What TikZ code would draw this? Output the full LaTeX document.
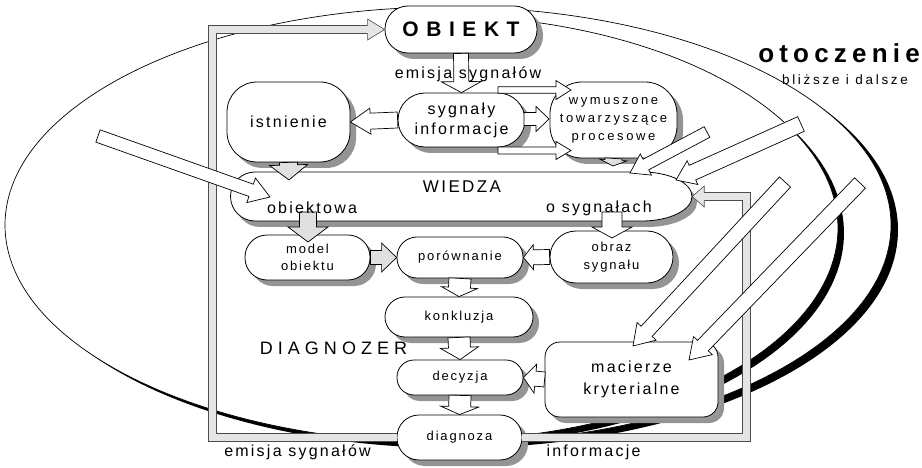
\documentclass[tikz,border=0pt]{standalone}
\usepackage{fontspec}
\setmainfont{Liberation Sans}
\newfontfamily\trkA[LetterSpace=14]{Liberation Sans}
\newfontfamily\trkB[LetterSpace=20]{Liberation Sans}
\newfontfamily\trkC[LetterSpace=28]{Liberation Sans}
\newfontfamily\trkD[LetterSpace=36]{Liberation Sans}
\usetikzlibrary{calc,shadows}

% hollow block arrow: [fill] {tail} {tip} {half shaft} {half head} {head length}
\newcommand{\blockarrow}[6][white]{%
  \coordinate (ba-h) at ($(#3)!#6!(#2)$);
  \filldraw[blockline, fill=#1]
    ($(#2)!#4!90:(#3)$) -- ($(ba-h)!#4!-90:(#2)$) -- ($(ba-h)!#5!-90:(#2)$) -- (#3)
    -- ($(ba-h)!#5!90:(#2)$) -- ($(ba-h)!#4!90:(#2)$) -- ($(#2)!#4!-90:(#3)$) -- cycle;
}

\tikzset{
  outline/.style={draw=black, line width=0.8pt},
  pill/.style={outline, fill=white, shape=rectangle, inner sep=0pt, align=center,
    drop shadow={shadow xshift=6pt, shadow yshift=-6pt, fill=black!42, opacity=1}},
  blockline/.style={draw=black, line width=0.7pt, line join=miter},
  band/.style={draw=black!70, line width=0.6pt, double=black!10, double distance=7.6pt},
  headline/.style={draw=black!70, line width=0.6pt},
  txtL/.style={font=\trkA\fontsize{16}{20}\selectfont},
  txtM/.style={font=\trkA\fontsize{13}{17.5}\selectfont, align=center},
  shade/.style={fill=black!42},
}

\begin{document}
\begin{tikzpicture}[x=1pt, y=-1pt]
\useasboundingbox (0,0) rectangle (922,468);
\fill[white] (0,0) rectangle (922,468);

% environment: outer ellipse with its dark crescent
\fill[black] (455,230) ellipse [x radius=443pt, y radius=218pt];
\filldraw[fill=white, draw=black, line width=0.7pt] (448,225) ellipse [x radius=443pt, y radius=218pt];
% inner environment ring (right part only)
\fill[black] plot[domain=-84:84, samples=90] ({436+408*cos(\x)}, {233+213*sin(\x)}) -- cycle;
\fill[white] plot[domain=-84:84, samples=90] ({430+408*cos(\x)}, {228+213*sin(\x)}) -- cycle;
\draw[line width=0.7pt] plot[domain=-84:84, samples=90] ({430+408*cos(\x)}, {228+213*sin(\x)});

% main nodes
\node[pill, rounded corners=23pt, minimum width=152pt, minimum height=47pt,
      font=\trkD\bfseries\fontsize{21}{24}\selectfont] (obiekt) at (461,29.5) {OBIEKT};
\node[pill, rounded corners=27pt, minimum width=127pt, minimum height=54pt, txtL]
      (sygnaly) at (461.5,120) {sygnały\\informacje};
\node[pill, rounded corners=30pt, minimum width=123pt, minimum height=80pt, txtL]
      (istnienie) at (288.5,122) {istnienie};
\node[pill, rounded corners=32pt, minimum width=127pt, minimum height=76pt,
      font=\trkB\fontsize{13}{18}\selectfont] (wymuszone) at (613.5,120) {wymuszone\\towarzyszące\\procesowe};

% knowledge base
\node[minimum width=462pt, minimum height=49pt, inner sep=0pt] (wiedza) at (461,196.5) {};
\fill[shade, shift={(5,6)}] (255,172) -- (642,172)
   arc[start angle=90, end angle=-90, x radius=50pt, y radius=24.5pt] -- (255,221)
   arc[start angle=-90, end angle=-270, radius=24.5pt] -- cycle;
\filldraw[outline, fill=white] (255,172) -- (642,172)
   arc[start angle=90, end angle=-90, x radius=50pt, y radius=24.5pt] -- (255,221)
   arc[start angle=-90, end angle=-270, radius=24.5pt] -- cycle;

\node[pill, rounded corners=22pt, minimum width=125pt, minimum height=45pt, txtM]
      (model) at (307.5,257.5) {model\\obiektu};
\node[pill, rounded corners=20pt, minimum width=126pt, minimum height=41pt, txtM]
      (porownanie) at (460,257.5) {porównanie};
\node[pill, rounded corners=26pt, minimum width=123pt, minimum height=52pt, txtM]
      (obraz) at (611.5,257) {obraz\\sygnału};
\node[pill, rounded corners=20pt, minimum width=148pt, minimum height=40pt, txtM]
      (konkluzja) at (459,317) {konkluzja};
\node[pill, rounded corners=17pt, minimum width=126pt, minimum height=35pt, txtM]
      (decyzja) at (460,377.5) {decyzja};
\node[pill, rounded corners=15pt, minimum width=173pt, minimum height=75pt,
      font=\trkA\fontsize{16}{22}\selectfont,
      drop shadow={shadow xshift=3pt, shadow yshift=-3pt, fill=black!40, opacity=1}]
      (macierze) at (631.5,379.5) {macierze\\kryterialne};
\node[pill, rounded corners=22pt, minimum width=125pt, minimum height=45pt, txtM]
      (diagnoza) at (459.5,437.5) {diagnoza};

% diagnoser frame loops
\coordinate (fl) at (212.5,0);
\coordinate (fr) at (746.5,0);
\draw[band] (diagnoza.west) -- (diagnoza.west -| fl) -- (obiekt.west -| fl) -- ([xshift=-17pt]obiekt.west);
\fill[black!10] ([xshift=-17pt,yshift=10.5pt]obiekt.west) -- (obiekt.west) -- ([xshift=-17pt,yshift=-10.5pt]obiekt.west) -- cycle;
\draw[headline] ([xshift=-17pt,yshift=4.4pt]obiekt.west) -- ([xshift=-17pt,yshift=10.5pt]obiekt.west)
   -- (obiekt.west) -- ([xshift=-17pt,yshift=-10.5pt]obiekt.west) -- ([xshift=-17pt,yshift=-4.4pt]obiekt.west);
\draw[band] (diagnoza.east) -- (diagnoza.east -| fr) -- (wiedza.east -| fr) -- ([xshift=12pt]wiedza.east);
\fill[black!10] ([xshift=12pt,yshift=10.5pt]wiedza.east) -- (wiedza.east) -- ([xshift=12pt,yshift=-10.5pt]wiedza.east) -- cycle;
\draw[headline] ([xshift=12pt,yshift=4.4pt]wiedza.east) -- ([xshift=12pt,yshift=10.5pt]wiedza.east)
   -- (wiedza.east) -- ([xshift=12pt,yshift=-10.5pt]wiedza.east) -- ([xshift=12pt,yshift=-4.4pt]wiedza.east);

% flows between nodes
\coordinate (s1) at (498,90);  \coordinate (e1) at (571,90);
\coordinate (s2) at (524,119); \coordinate (e2) at (549,119);
\coordinate (s3) at (498,150.5); \coordinate (e3) at (571,150.5);
\blockarrow{obiekt.south}{sygnaly.north}{7.5pt}{20pt}{11pt}
\blockarrow{sygnaly.west}{istnienie.east}{8pt}{13pt}{20pt}
\blockarrow{s1}{e1}{3.3pt}{9.5pt}{15pt}
\blockarrow{s2}{e2}{6.5pt}{12.5pt}{13pt}
\blockarrow{s3}{e3}{3.5pt}{9pt}{15pt}
\coordinate (wi-a) at (289,180);
\blockarrow[black!12]{istnienie.south}{wi-a}{9pt}{19pt}{15pt}
\coordinate (wi-b) at (613,166);
\blockarrow[black!12]{wymuszone.south}{wi-b}{8.5pt}{13.5pt}{6pt}
\coordinate (wo-a) at (308,212); \coordinate (mo-a) at (308,242);
\blockarrow[black!12]{wo-a}{mo-a}{8.5pt}{20pt}{15pt}
\coordinate (wo-b) at (612,212); \coordinate (ob-a) at (612,238);
\blockarrow{wo-b}{ob-a}{10pt}{20pt}{11pt}
\blockarrow[black!12]{model.east}{porownanie.west}{7pt}{14.5pt}{15pt}
\blockarrow{obraz.west}{porownanie.east}{7.5pt}{12.5pt}{10pt}
\blockarrow{porownanie.south}{konkluzja.north}{11pt}{18pt}{9pt}
\blockarrow{konkluzja.south}{decyzja.north}{11pt}{19pt}{12pt}
\blockarrow{decyzja.south}{diagnoza.north}{11pt}{19pt}{8pt}
\blockarrow{macierze.west}{decyzja.east}{7.5pt}{14.5pt}{12pt}

% influences from the environment
\coordinate (srcA) at (98,136);  \coordinate (dstA) at (270,197);
\coordinate (srcB) at (707,132); \coordinate (dstB) at (630,173);
\coordinate (srcC) at (801,124); \coordinate (dstC) at (676,180);
\coordinate (srcD) at (785,182); \coordinate (dstD) at (633,346);
\coordinate (srcE) at (860,183); \coordinate (dstE) at (689,360);
\blockarrow{srcA}{dstA}{6.5pt}{13pt}{20pt}
\blockarrow{srcB}{dstB}{6pt}{12pt}{18pt}
\blockarrow{srcC}{dstC}{8pt}{13pt}{18pt}
\blockarrow{srcD}{dstD}{7.5pt}{13pt}{20pt}
\blockarrow{srcE}{dstE}{7.5pt}{13pt}{20pt}

% labels
\node[txtL] (emisjaT) at (468,74) {emisja sygnałów};
\node[font=\trkA\fontsize{17}{20}\selectfont] (wiedzaT) at (462,187) {WIEDZA};
\node[txtL] (obiektowa) at (312,208) {obiektowa};
\node[txtL] (osygnalach) at (599,208) {o sygnałach};
\node[font=\trkC\fontsize{18}{20}\selectfont] (diagnozer) at (333.5,348) {DIAGNOZER};
\node[txtL] (emisjaB) at (297.5,452) {emisja sygnałów};
\node[txtL] (informacje) at (593.5,452) {informacje};
\node[font=\trkB\bfseries\fontsize{26}{28}\selectfont] (otoczenie) at (839,53) {otoczenie};
\node[font=\trkB\fontsize{13.5}{16}\selectfont] (blizsze) at (845,80) {bliższe i dalsze};
\end{tikzpicture}
\end{document}
